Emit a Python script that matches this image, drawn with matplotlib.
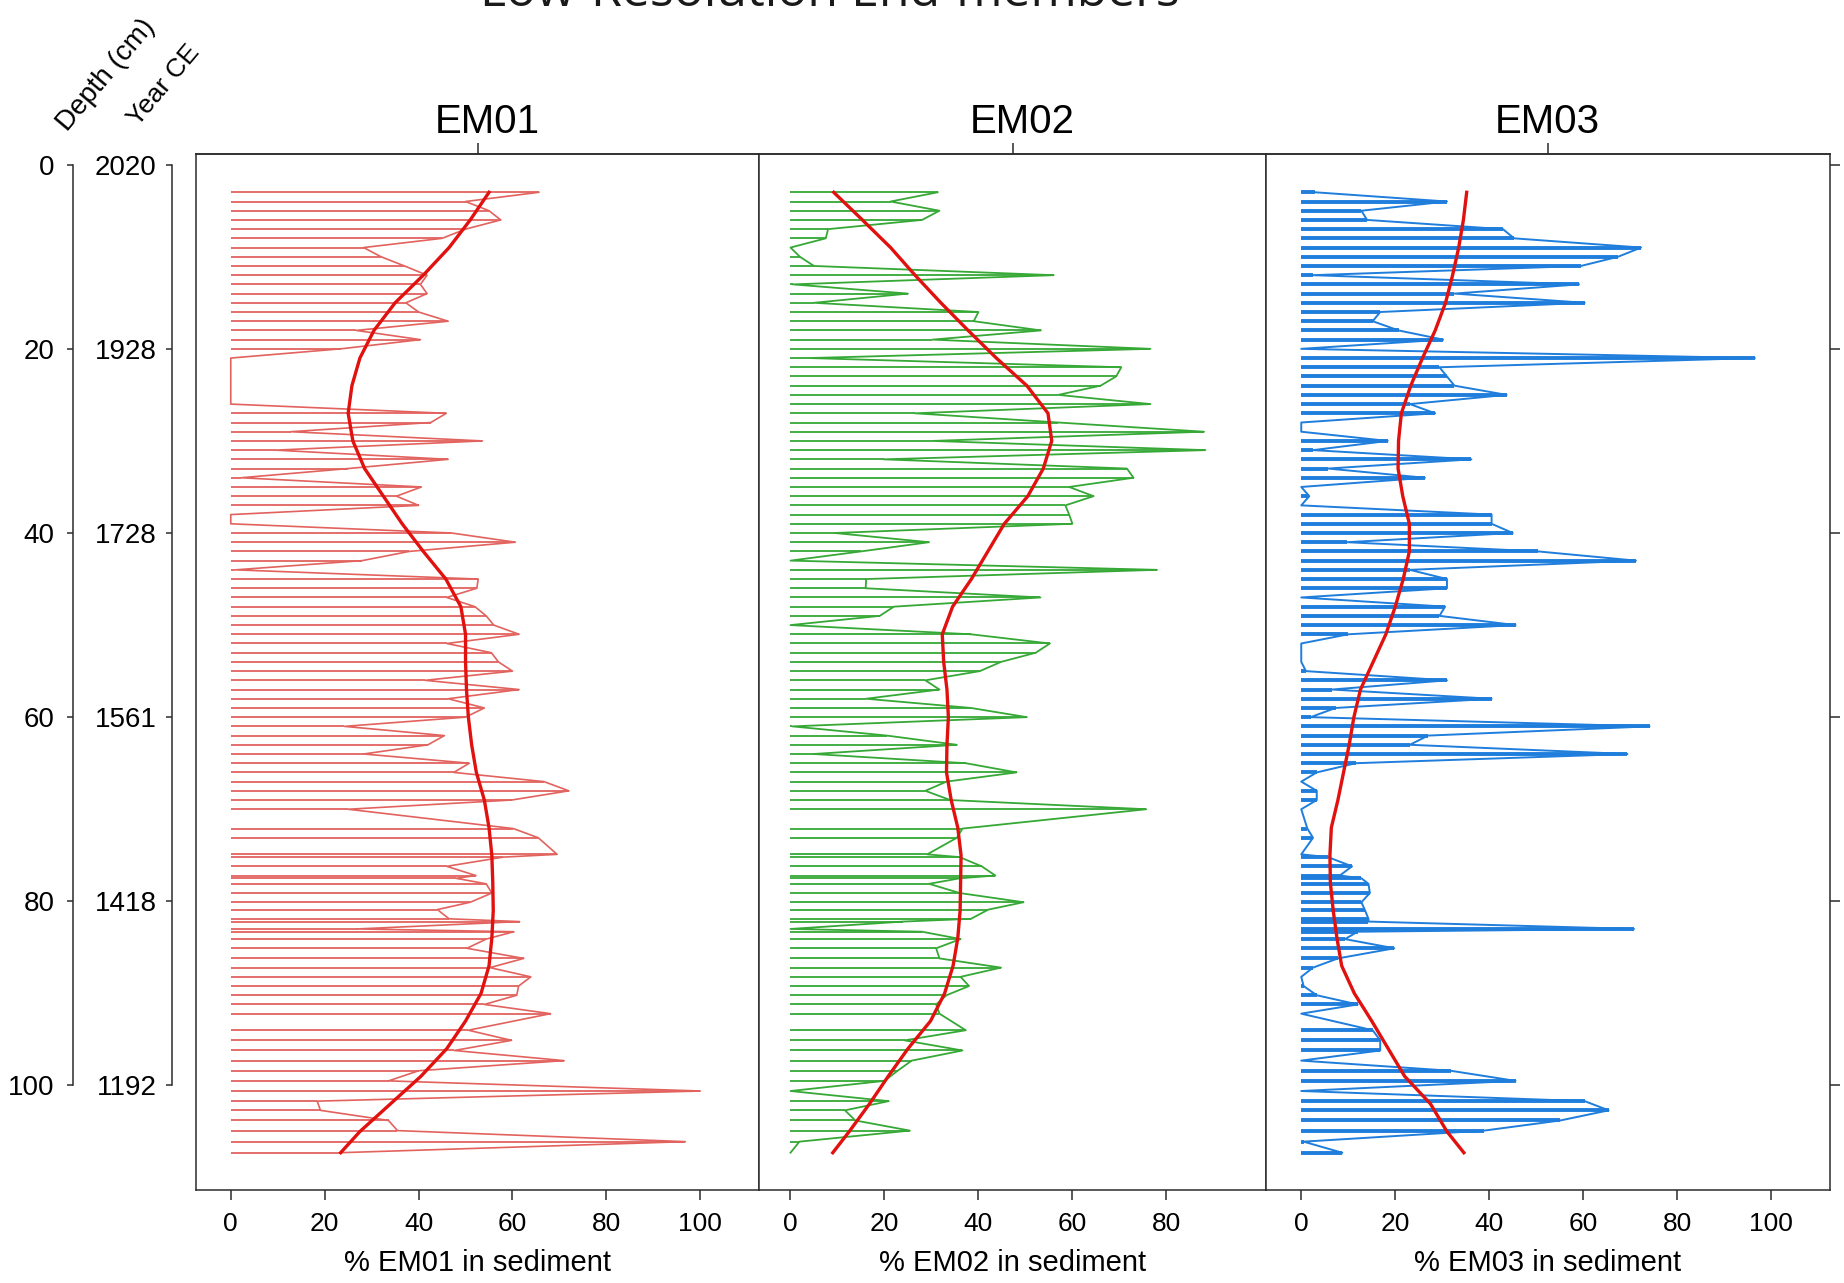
import matplotlib
matplotlib.use("Agg")
import matplotlib.pyplot as plt

plt.rcParams['font.family'] = ['Liberation Sans', 'DejaVu Sans']

# sample depths (cm), shared by the three end-members
depth = [3, 4, 5, 6, 7, 8, 9, 10, 11, 12,
         13, 14, 15, 16, 17, 18, 19, 20, 21, 22,
         23, 24, 25, 26, 27, 28, 29, 30, 31, 32,
         33, 34, 35, 36, 37, 38, 39, 40, 41, 42,
         43, 44, 45, 46, 47, 48, 49, 50, 51, 52,
         53, 54, 55, 56, 57, 58, 59, 60, 61, 62,
         63, 64, 65, 66, 67, 68, 69, 70,
         72.1, 73.1, 74.9, 75.2, 76.2, 77.2, 77.5, 78.1, 79.1, 80.1,
         80.9, 81.9, 82.2, 83.0, 83.3, 84.1, 85.1, 86.2, 87.2, 88.2, 89.2,
         90.2, 91.2, 92.2, 94.0, 95.1, 96.2, 97.3, 98.4, 99.5, 100.6,
         101.7, 102.7, 103.8, 104.9, 106.1, 107.3]

em01 = [65.6, 50, 55, 57.5, 50, 45, 28.3, 32, 37, 41.8,
        40.4, 41.8, 37.3, 40, 46.3, 26.7, 40.4, 23.4, 0, 0,
        0, 0, 0, 0, 45.9, 42.6, 12.8, 53.6, 9.6, 46.3,
        25, 2.2, 40.6, 35.3, 40, 0, 0, 47, 60.6, 38,
        28, 1, 52.7, 52.4, 46, 52, 54.4, 56, 61.4, 46,
        55.5, 57, 60, 41.4, 61.4, 46.3, 54, 50, 24.2, 45.5,
        42, 28.3, 50.8, 47.5, 66.7, 72, 59.8, 25,
        60.2, 65.5, 69.5, 58, 46, 52.2, 48, 54.4, 55.6, 51,
        44, 46.5, 61.5, 27, 60.3, 54.4, 50.3, 62.4, 55.2, 63.9, 61.3,
        60.9, 54, 68.1, 50.6, 59.8, 47.6, 71, 40, 33.6, 100,
        18.4, 19.1, 33.6, 35.5, 96.8, 23.3]

em02 = [31.3, 21.3, 31.7, 28, 8, 7.5, 0, 2, 5, 56,
        0.5, 25, 5, 40, 39, 53.3, 30.2, 76.6, 4, 70.4,
        69.3, 66, 57, 76.6, 26.5, 57, 88, 30.2, 88.3, 19.8,
        71.6, 73, 59.3, 64.5, 58.5, 59.3, 60, 9.4, 29.5, 15,
        0, 78, 16.1, 16, 53.2, 22, 19, 0, 38.4, 55.2,
        52.2, 44.8, 40.3, 28.7, 31.7, 16.1, 38.4, 50.3, 0.4, 20.5,
        35.4, 4.9, 37.3, 48.1, 33.2, 28.7, 34, 75.7,
        36.6, 35.4, 29.1, 36, 40.7, 43.6, 36, 29.5, 36, 49.6,
        42.1, 38.4, 24, 0, 28, 36.2, 31, 31.7, 44.8, 36.2, 38,
        33.2, 31, 31.7, 37.3, 24.3, 36.6, 25.8, 22.8, 20, 0,
        20.9, 11.6, 13.8, 25.4, 1.9, 0]

em03 = [3, 31, 12.8, 14, 42.9, 45.3, 72.3, 67.4, 59.5, 2.5,
        59.1, 32.6, 60.3, 16.8, 15.2, 20.7, 30.2, 0, 96.5, 29.4,
        31, 32.6, 43.7, 23.1, 28.5, 0, 0, 18.4, 2.5, 36.2,
        5.7, 26.3, 0, 1.7, 0, 40.5, 40.5, 45, 9.7, 50.4,
        71.2, 23.1, 31, 31, 0, 30.6, 29.4, 45.6, 10, 0,
        0, 0, 1, 31, 6.5, 40.5, 7.3, 2, 74.1, 27,
        23.1, 69.4, 11.6, 3.3, 0, 3.3, 3.3, 0,
        1.3, 2.5, 0, 5.7, 10.8, 8.2, 12.8, 14.3, 14.6, 12.8,
        13.5, 14.3, 14.3, 70.8, 12, 9.3, 19.8, 7.8, 2.5, 0, 0.5,
        3.3, 12, 0, 15.2, 16.8, 16.8, 0, 31.8, 45.6, 0,
        60.3, 65.4, 55.1, 38.9, 0.5, 8.7]

# smoothed trend lines
smooth_depth = [3, 6, 9, 12, 15, 18, 21, 24, 27, 30, 33, 36, 39, 42, 45, 48, 51, 54,
                57, 60, 63, 66, 69, 72, 75, 78, 81, 84, 87, 90, 93, 96, 99, 102, 105, 107.3]
em01_smooth = [55, 51, 46.5, 41, 35, 30.5, 27.5, 25.8, 25, 26, 28.5, 32.5, 36.5, 41, 45.8, 49,
               50, 50, 50.2, 50.6, 51.3, 52.3, 54, 55, 55.6, 55.8, 55.9, 55.6, 55, 53.3, 50,
               46, 40.5, 34, 27.5, 23.4]
em02_smooth = [9.2, 15.3, 21.3, 26.5, 32, 37.8, 43.8, 50.3, 54.8, 55.6, 53.8, 50.5, 45.5, 42,
               38.5, 34.5, 32.3, 32.6, 33.3, 33.6, 33.3, 33.2, 34.2, 35.6, 36.3, 36.2, 36.1,
               35.6, 34.6, 32.8, 29.8, 25, 20.8, 16.8, 12.5, 9]
em03_smooth = [35.2, 34.5, 33.5, 32.2, 30.7, 28.5, 25.8, 23.3, 21.3, 20.7, 20.6, 21.6, 23, 23,
               21.7, 20, 18, 15.3, 12.6, 11.2, 10.2, 9, 7.8, 6.4, 6.1, 6.2, 6.8, 7.6, 8.6, 11.3,
               15, 18.5, 22, 27.5, 31, 34.6]

depth_ticks = [0, 20, 40, 60, 80, 100]
year_labels = ['2020', '1928', '1728', '1561', '1418', '1192']

panels = [
    ('EM01', em01, em01_smooth, '#e2625e', 1.3, 1.2, (-7.3, 112.5), [0, 20, 40, 60, 80, 100]),
    ('EM02', em02, em02_smooth, '#35a835', 1.3, 1.3, (-6.7, 101.2), [0, 20, 40, 60, 80]),
    ('EM03', em03, em03_smooth, '#1f7ddc', 2.8, 1.4, (-7.5, 112.5), [0, 20, 40, 60, 80, 100]),
]
boxes = [[0.10656, 0.07249, 0.30505, 0.80748],
         [0.41161, 0.07249, 0.27495, 0.80748],
         [0.68655, 0.07249, 0.30586, 0.80748]]
title_x = [0.2641, 0.5546, 0.8390]

ylim = (111.35, -1.16)
spine_col = '#2b2b2b'

fig = plt.figure(figsize=(18.44, 12.83), dpi=100)

for (name, vals, sm, col, hw, pw, xl, xt), box, tx in zip(panels, boxes, title_x):
    ax = fig.add_axes(box)
    ax.hlines(depth, 0, vals, colors=col, lw=hw, zorder=2)
    ax.plot(vals, depth, color=col, lw=pw, zorder=2)
    ax.plot(sm, smooth_depth, color='#e0110f', lw=2.4, zorder=3)
    ax.set_xlim(*xl)
    ax.set_ylim(*ylim)
    ax.set_xticks(xt)
    ax.tick_params(axis='x', direction='out', length=7, width=1.1, pad=9,
                   labelsize=19, color=spine_col)
    ax.set_xlabel(f'% {name} in sediment', fontsize=21, labelpad=9)
    for s in ax.spines.values():
        s.set_linewidth(1.1)
        s.set_color(spine_col)
    if name == 'EM03':
        ax.yaxis.tick_right()
        ax.set_yticks(depth_ticks)
        ax.tick_params(axis='y', direction='out', length=7, width=1.1,
                       labelright=False, color=spine_col)
    else:
        ax.set_yticks([])
    top = ax.secondary_xaxis('top')
    top.set_xticks([(xl[0] + xl[1]) / 2])
    top.set_xticklabels([''])
    top.tick_params(direction='out', length=8, width=1.1, color=spine_col)
    top.spines['top'].set_linewidth(1.1)
    top.spines['top'].set_color(spine_col)
    fig.text(tx, 0.8963, name, ha='center', va='baseline', fontsize=29)

# depth and age scales on the left
for left, labels, pad in [(0.03943, None, 8.4), (0.09311, year_labels, 6.5)]:
    sa = fig.add_axes([left, 0.07249, 0.001, 0.80748])
    sa.set_ylim(*ylim)
    sa.set_xticks([])
    for k in ('top', 'right', 'bottom'):
        sa.spines[k].set_visible(False)
    sa.spines['left'].set_bounds(0, 100)
    sa.spines['left'].set_linewidth(1.1)
    sa.spines['left'].set_color(spine_col)
    sa.set_yticks(depth_ticks)
    if labels is not None:
        sa.set_yticklabels(labels)
    sa.tick_params(axis='y', direction='out', length=4.5, width=1.1, pad=pad,
                   labelsize=20, color=spine_col)
    sa.patch.set_visible(False)

fig.text(0.0363, 0.8971, 'Depth (cm)', rotation=50, rotation_mode='anchor',
         ha='left', va='baseline', fontsize=20)
fig.text(0.0746, 0.9010, 'Year CE', rotation=50, rotation_mode='anchor',
         ha='left', va='baseline', fontsize=19)

fig.text(0.450, 0.9950, 'Low-Resolution End-members', ha='center', va='baseline',
         fontsize=36, family=['Open Sans', 'DejaVu Sans'], color='#1a1a1a')

fig.savefig('out.png', dpi=100)
